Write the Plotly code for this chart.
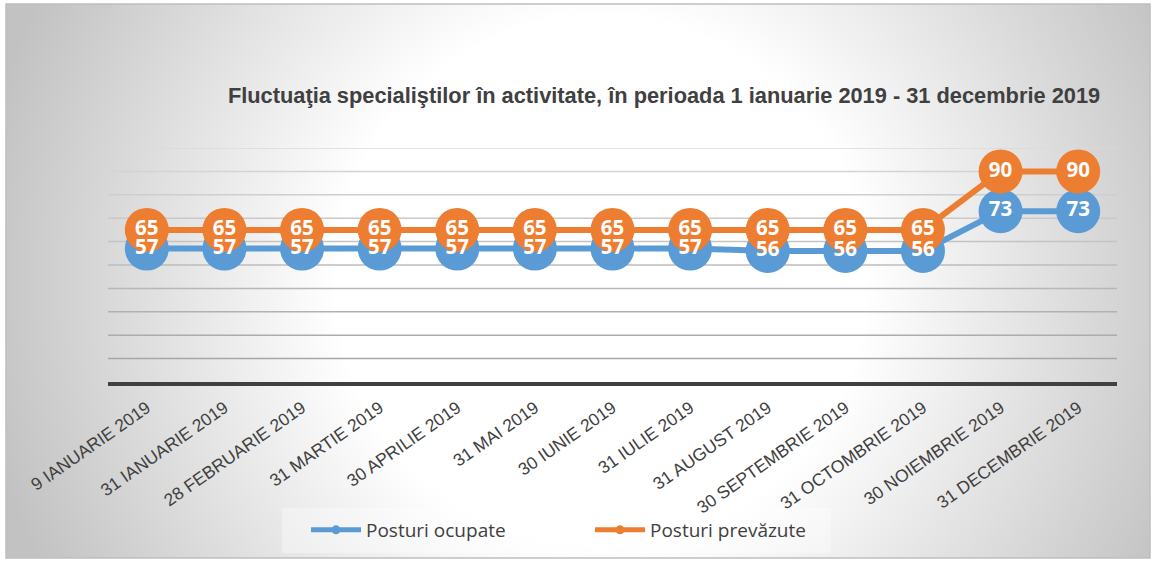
import base64
import numpy as np
import plotly.graph_objects as go

categories = ["9 IANUARIE 2019", "31 IANUARIE 2019", "28 FEBRUARIE 2019", "31 MARTIE 2019",
              "30 APRILIE 2019", "31 MAI 2019", "30 IUNIE 2019", "31 IULIE 2019",
              "31 AUGUST 2019", "30 SEPTEMBRIE 2019", "31 OCTOMBRIE 2019",
              "30 NOIEMBRIE 2019", "31 DECEMBRIE 2019"]
posturi_ocupate = [57, 57, 57, 57, 57, 57, 57, 57, 56, 56, 56, 73, 73]
posturi_prevazute = [65, 65, 65, 65, 65, 65, 65, 65, 65, 65, 65, 90, 90]
series_names = ["Posturi ocupate", "Posturi prevăzute"]
title_text = "Fluctuaţia specialiştilor în activitate, în perioada 1 ianuarie 2019 - 31 decembrie 2019"
y_ticks = list(range(0, 101, 10))

BLUE = "#5b9bd5"
ORANGE = "#ed7d31"

W, H = 1159, 564
L, R, T, B = 108, 1117, 148, 382  # plot area pixel bounds
pw, ph = R - L, B - T

def px_to_paper_x(px):
    return (px - L) / pw

def px_to_paper_y(py):
    return (B - py) / ph

# radial gradient background as an svg image
bx0, by0, bx1, by1 = 6, 4, 1150, 558
bw, bh = bx1 - bx0, by1 - by0
svg = f'''<svg xmlns="http://www.w3.org/2000/svg" width="{bw}" height="{bh}" viewBox="0 0 {bw} {bh}">
<defs><radialGradient id="g" gradientUnits="userSpaceOnUse" cx="{bw*0.52}" cy="{bh*0.5}" r="{bw*0.55}">
<stop offset="0" stop-color="#ffffff"/><stop offset="0.42" stop-color="#ffffff"/>
<stop offset="1" stop-color="#c2c2c2"/></radialGradient></defs>
<rect x="0" y="0" width="{bw}" height="{bh}" fill="url(#g)"/></svg>'''
src = "data:image/svg+xml;base64," + base64.b64encode(svg.encode()).decode()

fig = go.Figure()

fig.add_trace(go.Scatter(x=categories, y=posturi_ocupate, mode="lines+markers",
                         line=dict(color=BLUE, width=6),
                         marker=dict(size=44, color=BLUE), showlegend=False,
                         cliponaxis=False, hoverinfo="skip"))
fig.add_trace(go.Scatter(x=categories, y=posturi_prevazute, mode="lines+markers",
                         line=dict(color=ORANGE, width=6),
                         marker=dict(size=44, color=ORANGE), showlegend=False,
                         cliponaxis=False, hoverinfo="skip"))
label_font = dict(family="Open Sans", size=20.5, color="white", weight="bold")
fig.add_trace(go.Scatter(x=categories, y=posturi_ocupate, mode="text",
                         text=[str(v) for v in posturi_ocupate], textposition="middle center",
                         textfont=label_font, showlegend=False, cliponaxis=False, hoverinfo="skip"))
fig.add_trace(go.Scatter(x=categories, y=posturi_prevazute, mode="text",
                         text=[str(v) for v in posturi_prevazute], textposition="middle center",
                         textfont=label_font, showlegend=False, cliponaxis=False, hoverinfo="skip"))
# legend entries (one legend per item so the spacing can follow the reference)
for i, (name, col) in enumerate(zip(series_names, [BLUE, ORANGE])):
    fig.add_trace(go.Scatter(x=[None], y=[None], mode="lines+markers", name=name,
                             legend="legend" if i == 0 else "legend2",
                             line=dict(color=col, width=5), marker=dict(size=9, color=col)))

shapes = []
# gridlines: lighter at top, darker at bottom
for v in y_ticks[1:]:
    t = v / 100.0
    c = int(round(0xa0 + (0xda - 0xa0) * t))
    shapes.append(dict(type="line", xref="paper", yref="y", x0=0, x1=1, y0=v, y1=v,
                       line=dict(color=f"rgb({c},{c},{c})", width=1.5), layer="below"))
# outer border
shapes.append(dict(type="rect", xref="paper", yref="paper",
                   x0=px_to_paper_x(bx0), x1=px_to_paper_x(bx1),
                   y0=px_to_paper_y(by1), y1=px_to_paper_y(by0),
                   line=dict(color="#bfbfbf", width=1.5), layer="below"))
# legend box
shapes.append(dict(type="rect", xref="paper", yref="paper",
                   x0=px_to_paper_x(282), x1=px_to_paper_x(831),
                   y0=px_to_paper_y(553), y1=px_to_paper_y(508),
                   fillcolor="rgba(255,255,255,0.35)", line=dict(width=0), layer="below"))

leg_common = dict(orientation="h", yanchor="middle", y=px_to_paper_y(530),
                  bgcolor="rgba(0,0,0,0)", xanchor="left",
                  font=dict(family="Open Sans", size=19, color="#404040"), itemwidth=50)

fig.update_layout(
    width=W, height=H,
    margin=dict(l=L, r=W - R, t=T, b=H - B, pad=0),
    paper_bgcolor="white", plot_bgcolor="rgba(0,0,0,0)",
    images=[dict(source=src, xref="paper", yref="paper",
                 x=px_to_paper_x(bx0), y=px_to_paper_y(by0),
                 sizex=bw / pw, sizey=bh / ph, xanchor="left", yanchor="top",
                 sizing="stretch", layer="below")],
    shapes=shapes,
    title=dict(text=title_text, x=px_to_paper_x(664), xref="paper", xanchor="center",
               y=1 - 95 / H, yref="container", yanchor="middle",
               font=dict(family="Liberation Sans", size=21.8, color="#404040", weight="bold")),
    xaxis=dict(type="category", showgrid=False, showline=True, linecolor="#404040", linewidth=4,
               tickangle=-35, ticks="", automargin=False, ticklabelstandoff=5,
               tickfont=dict(family="Liberation Sans", size=17.5, color="#404040"),
               range=[-0.5, len(categories) - 0.5], fixedrange=True),
    yaxis=dict(range=[0, 100], showgrid=False, showticklabels=False, zeroline=False,
               tickvals=y_ticks, ticks="", fixedrange=True, automargin=False),
    legend=dict(leg_common, x=px_to_paper_x(306)),
    legend2=dict(leg_common, x=px_to_paper_x(590)),
    showlegend=True,
)

fig.write_html("out.html", post_script="document.body.style.margin='0';",
               config={"displayModeBar": False})
